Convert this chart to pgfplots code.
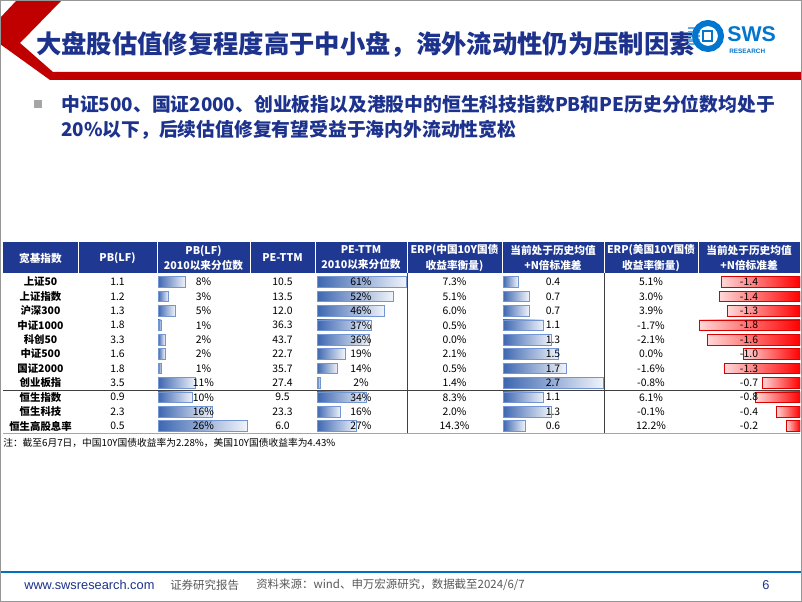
\documentclass[border=0pt]{standalone}
\usepackage{fontspec}
\setmainfont{Noto Sans CJK SC}
\newfontfamily\arialfont{Liberation Sans}
\usepackage{pgfplots}
\pgfplotsset{compat=1.18}

\definecolor{navy}{RGB}{28,50,140}
\definecolor{hdr}{RGB}{31,56,145}
\definecolor{barblue}{RGB}{68,114,196}
\definecolor{slidered}{RGB}{192,0,0}
\definecolor{logoblue}{RGB}{0,118,206}
\definecolor{footblue}{RGB}{0,112,192}
\definecolor{framegray}{RGB}{150,150,150}

\newcommand\tb{\fontsize{7.8}{9}\selectfont}
\newcommand\hdrfont{\fontsize{8}{11.3}\selectfont\bfseries}

% one small axis per data-bar column, rows 0..10 from top
\pgfplotsset{databar/.style={scale only axis, hide axis, y dir=reverse,
  ymin=-0.5, ymax=10.5, height=118.8pt, anchor=north west},
  bluebar/.style={xbar, bar width=0.74, draw=barblue!75, line width=0.4pt,
  left color=barblue!90!black, right color=barblue!8},
  redbar/.style={xbar, bar width=0.74, draw=red!85!black, line width=0.4pt,
  left color=red!15, right color=red}}

% each bar is its own plot, so that each gets its own gradient
\newcommand\databars[2]{%
  \foreach \v [count=\r from 0] in {#2}{%
    \edef\tmp{\noexpand\addplot[#1] coordinates {(\v,\r)};}\tmp}}

\begin{document}
\begin{tikzpicture}[x=0.75pt, y=-0.75pt]
\path[use as bounding box] (0,0) rectangle (802,602);
\fill[white] (0,0) rectangle (802,602);

% red chevron and band under the title
\fill[slidered] (17,0)--(62,0)--(20,43)--(53,72)--(802,72)--(802,80)--(50,80)--(0,44)--(0,18)--cycle;

% title
\node[anchor=west, inner sep=0, text=navy, font=\fontsize{19}{22}\selectfont\bfseries]
  at (36,45) {大盘股估值修复程度高于中小盘，海外流动性仍为压制因素};

% logo
\foreach \yy in {28,32,36,40,44}{\draw[logoblue!60, line width=1.2pt] (688,\yy)--(700,\yy);}
\draw[logoblue, line width=4.5pt] (708,36) circle (13);
\fill[white] (701,29) rectangle (714,43);
\draw[logoblue, line width=1pt] (703,31) rectangle (712,41);
\node[anchor=west, inner sep=0, text=logoblue, font=\arialfont\bfseries\fontsize{16}{16}\selectfont] at (727,34) {SWS};
\node[anchor=west, inner sep=0, text=logoblue, font=\arialfont\bfseries\fontsize{4.8}{5}\selectfont] at (729,51) {RESEARCH};

% bullet text
\fill[black!35] (34,100) rectangle (42,108);
\node[anchor=west, inner sep=0, text=navy, font=\fontsize{14.1}{18}\selectfont\bfseries]
  at (61,104) {中证500、国证2000、创业板指以及港股中的恒生科技指数PB和PE历史分位数均处于};
\node[anchor=west, inner sep=0, text=navy, font=\fontsize{14.1}{18}\selectfont\bfseries]
  at (61,130) {20\%以下，后续估值修复有望受益于海内外流动性宽松};

% table header
\fill[hdr] (3,242) rectangle (800,273);
\foreach \xx in {78,157,250,315,407,502,604,698}{\draw[white, line width=0.6pt] (\xx,242)--(\xx,273);}
\begin{scope}[every node/.style={inner sep=0, text=white, font=\hdrfont, align=center}]
\node at (40.5,258) {宽基指数};
\node at (117.5,258) {PB(LF)};
\node at (203.5,258) {PB(LF)\\2010以来分位数};
\node at (282.5,258) {PE-TTM};
\node at (361,258) {PE-TTM\\2010以来分位数};
\node at (454.5,258) {ERP(中国10Y国债\\收益率衡量)};
\node at (553,258) {当前处于历史均值\\+N倍标准差};
\node at (651,258) {ERP(美国10Y国债\\收益率衡量)};
\node at (749,258) {当前处于历史均值\\+N倍标准差};
\end{scope}

% data bars
\coordinate (pbA) at (158,274.8);
\coordinate (peA) at (317,274.8);
\coordinate (ncA) at (503,274.8);
\coordinate (nuA) at (698,274.8);

\begin{axis}[databar, at={(pbA)}, width=69pt, xmin=0, xmax=26.9]
\databars{bluebar}{8,3,5,1,2,2,1,11,10,16,26}
\end{axis}
\begin{axis}[databar, at={(peA)}, width=67.5pt, xmin=0, xmax=61.5]
\databars{bluebar}{61,52,46,37,36,19,14,2,34,16,27}
\end{axis}
\begin{axis}[databar, at={(ncA)}, width=75.75pt, xmin=0, xmax=2.73]
\databars{bluebar}{0.4,0.7,0.7,1.1,1.3,1.5,1.7,2.7,1.1,1.3,0.6}
\end{axis}
\begin{axis}[databar, at={(nuA)}, width=76.5pt, xmin=-1.82, xmax=0]
\databars{redbar}{-1.41,-1.44,-1.29,-1.80,-1.66,-1.02,-1.36,-0.68,-0.79,-0.43,-0.25}
\end{axis}

% table rules
\draw[black!75, line width=0.6pt] (3,390)--(800,390);
\draw[black!35, line width=1.2pt] (3,433.5)--(800,433.5);
\draw[black!75, line width=0.6pt] (407,273)--(407,433);
\draw[black!75, line width=0.6pt] (604,273)--(604,433);

% table text
\begin{scope}[every node/.style={inner sep=0, font=\tb}]
\foreach \i/\n/\a/\b/\c/\d/\e/\f/\g/\h in {
0/上证50/1.1/8/10.5/61/7.3/0.4/5.1/-1.4,
1/上证指数/1.2/3/13.5/52/5.1/0.7/3.0/-1.4,
2/沪深300/1.3/5/12.0/46/6.0/0.7/3.9/-1.3,
3/中证1000/1.8/1/36.3/37/0.5/1.1/-1.7/-1.8,
4/科创50/3.3/2/43.7/36/0.0/1.3/-2.1/-1.6,
5/中证500/1.6/2/22.7/19/2.1/1.5/0.0/-1.0,
6/国证2000/1.8/1/35.7/14/0.5/1.7/-1.6/-1.3,
7/创业板指/3.5/11/27.4/2/1.4/2.7/-0.8/-0.7,
8/恒生指数/0.9/10/9.5/34/8.3/1.1/6.1/-0.8,
9/恒生科技/2.3/16/23.3/16/2.0/1.3/-0.1/-0.4,
10/恒生高股息率/0.5/26/6.0/27/14.3/0.6/12.2/-0.2}{
  \pgfmathsetmacro\yy{282+14.4*\i}
  \node[font=\tb\bfseries] at (40.5,\yy) {\n};
  \node at (117.5,\yy) {\a};
  \node at (203.5,\yy) {\b\%};
  \node at (282.5,\yy) {\c};
  \node at (361,\yy) {\d\%};
  \node at (454.5,\yy) {\e\%};
  \node at (553,\yy) {\f};
  \node at (651,\yy) {\g\%};
  \node at (749,\yy) {\h};
}
\end{scope}

% note
\node[anchor=west, inner sep=0, font=\fontsize{7.3}{9}\selectfont] at (3,443)
  {注：截至6月7日，中国10Y国债收益率为2.28\%，美国10Y国债收益率为4.43\%};

% footer
\draw[footblue, line width=1.6pt] (0,572)--(802,572);
\node[anchor=west, inner sep=0, text=navy, font=\arialfont\fontsize{9.6}{11}\selectfont] at (24,585) {www.swsresearch.com};
\node[anchor=west, inner sep=0, text=black!65, font=\fontsize{8.6}{10}\selectfont] at (170,585) {证券研究报告};
\node[anchor=west, inner sep=0, text=black!65, font=\fontsize{8.6}{10}\selectfont] at (256,585) {资料来源：wind、申万宏源研究，数据截至2024/6/7};
\node[inner sep=0, text=navy, font=\arialfont\fontsize{9.6}{11}\selectfont] at (766,585) {6};

% slide frame
\draw[framegray, line width=0.8pt] (0.5,0.5) rectangle (801.5,601.5);
\end{tikzpicture}
\end{document}
